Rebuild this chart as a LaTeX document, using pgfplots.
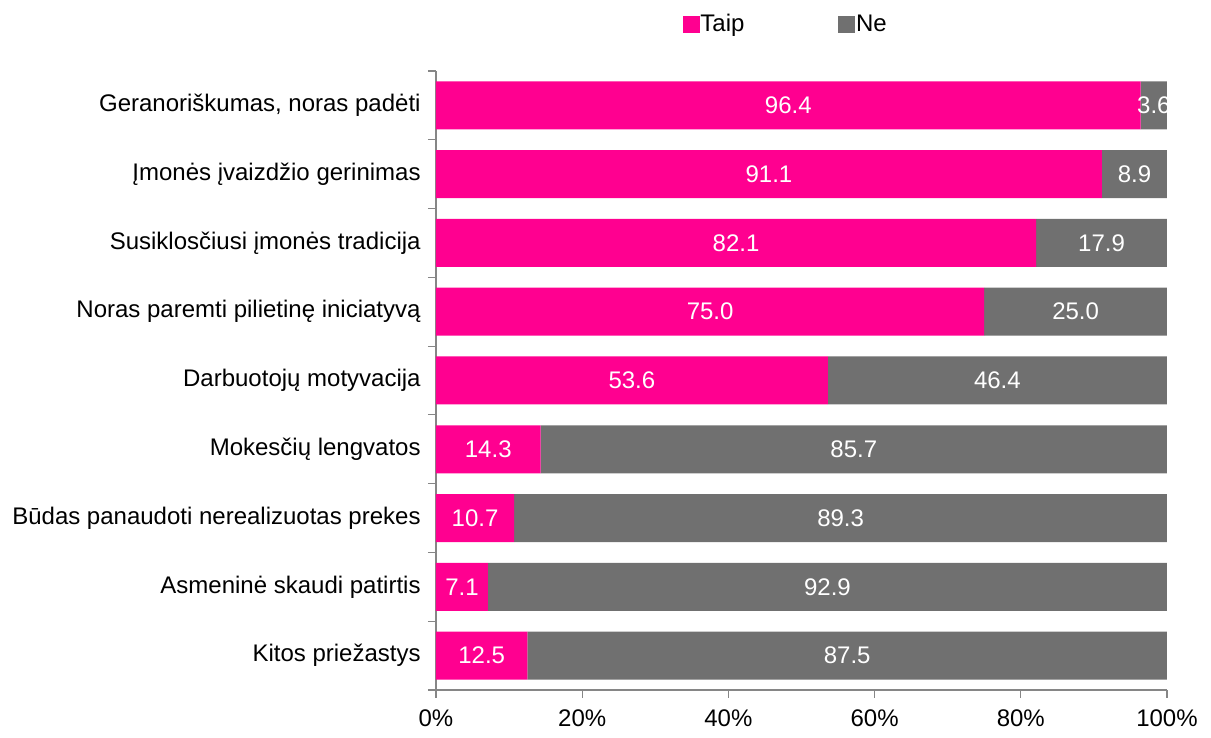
\documentclass[border=0pt]{standalone}
\usepackage{fontspec}
\setmainfont{Liberation Sans}
\usepackage{pgfplots}
\pgfplotsset{compat=1.18}
\definecolor{taip}{RGB}{255,0,144}
\definecolor{ne}{RGB}{112,112,112}
\definecolor{axgray}{RGB}{134,134,134}
\begin{document}
\fontsize{12}{14}\selectfont
\begin{tikzpicture}
\useasboundingbox (-218pt,-24pt) rectangle (387.5pt,345pt);
\begin{axis}[
  scale only axis, width=365.5pt, height=309.5pt,
  xbar stacked, bar width=24pt,
  xmin=0, xmax=100, ymin=-0.5, ymax=8.5,
  axis x line*=bottom, axis y line*=left,
  axis line style={draw=axgray, line width=0.6pt},
  tick align=outside, major tick length=4pt,
  tick style={draw=axgray, line width=0.6pt},
  /pgf/number format/assume math mode=true,
  xtick={0,20,40,60,80,100},
  xticklabels={0\%,20\%,40\%,60\%,80\%,100\%},
  ytick={-0.5,0.5,...,8.5}, yticklabels={},
  extra y ticks={0,1,...,8},
  extra y tick labels={{Kitos priežastys},{Asmeninė skaudi patirtis},{Būdas panaudoti nerealizuotas prekes},{Mokesčių lengvatos},{Darbuotojų motyvacija},{Noras paremti pilietinę iniciatyvą},{Susiklosčiusi įmonės tradicija},{Įmonės įvaizdžio gerinimas},{Geranoriškumas, noras padėti}},
  extra y tick style={tick style={draw=none}},
  yticklabel style={inner sep=0pt, xshift=-3.5pt},
  xticklabel style={inner sep=0pt, yshift=-5.5pt},
  legend style={draw=none, legend columns=2, at={(0.4775,1)}, anchor=center, yshift=23pt,
    /tikz/every even column/.append style={column sep=46.5pt},
    nodes={inner sep=0.4pt}},
  legend image code/.code={\fill[#1] (0pt,-4.25pt) rectangle (8.5pt,4.25pt);},
  lbl/.style={point meta=explicit symbolic,
    nodes near coords, nodes near coords align={center},
    every node near coord/.append style={text=white}},
]
\addplot[fill=taip, draw=none, lbl] coordinates {
(96.4,8) [96.4] (91.1,7) [91.1] (82.1,6) [82.1] (75.0,5) [75.0] (53.6,4) [53.6]
(14.3,3) [14.3] (10.7,2) [10.7] (7.1,1) [7.1] (12.5,0) [12.5]};
\addplot[fill=ne, draw=none, lbl] coordinates {
(3.6,8) [3.6] (8.9,7) [8.9] (17.9,6) [17.9] (25.0,5) [25.0] (46.4,4) [46.4]
(85.7,3) [85.7] (89.3,2) [89.3] (92.9,1) [92.9] (87.5,0) [87.5]};
\legend{Taip,Ne}
\end{axis}
\end{tikzpicture}
\end{document}
